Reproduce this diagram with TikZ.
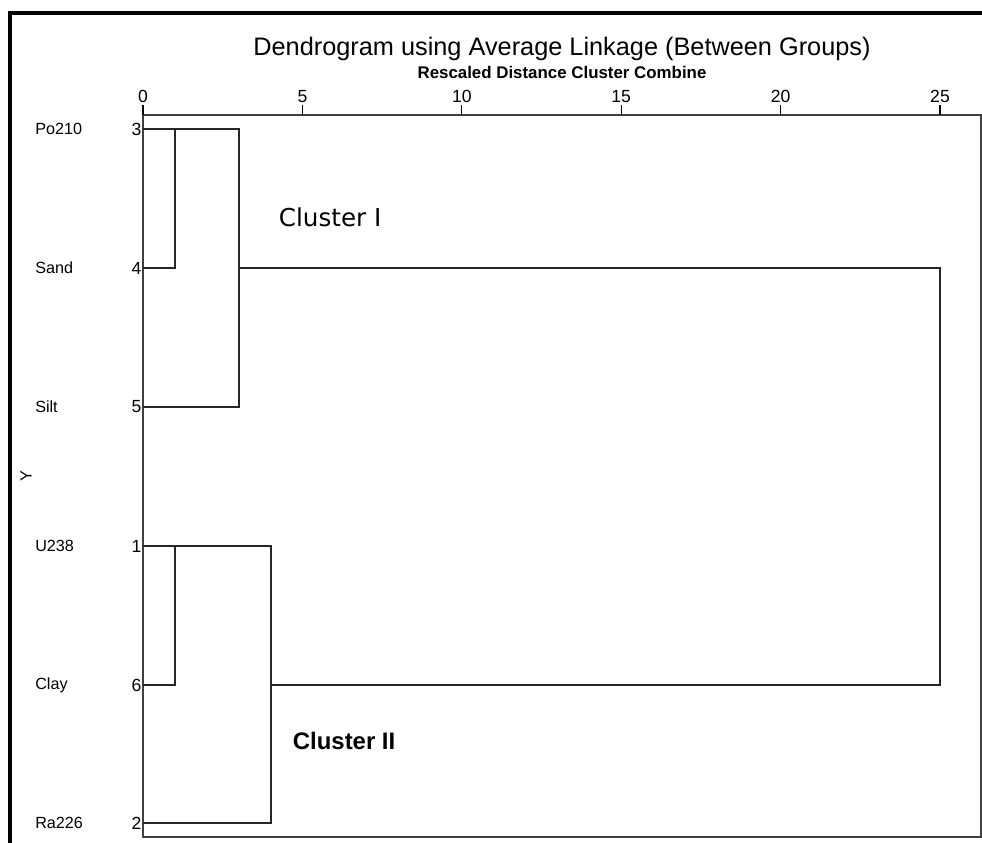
\documentclass[tikz,border=0pt]{standalone}
\usepackage{fontspec}
\setmainfont{Liberation Sans}
\newfontfamily\clusterfont{DejaVu Sans}
\usetikzlibrary{positioning}

\begin{document}
\begin{tikzpicture}[x=0.025cm,y=-0.025cm,
    link/.style={line width=1.5pt, black!85},
    leaf/.style={anchor=west, inner sep=0pt, font=\fontsize{11.5}{13}\selectfont},
    caseno/.style={anchor=east, inner sep=1pt, font=\fontsize{12.5}{14}\selectfont},
    ticklabel/.style={above, inner sep=1pt, font=\fontsize{12.5}{14}\selectfont}]
  \useasboundingbox (0,0) rectangle (982,843);
  % outer frame
  \draw[line width=3pt] (10,843) -- (10,13) -- (982,13);
  % titles
  \node (title) at (562,49) {\fontsize{18}{20}\selectfont Dendrogram using Average Linkage (Between Groups)};
  \node[below=-1pt of title, inner sep=1pt] (subtitle) {\fontsize{12}{14}\selectfont\bfseries Rescaled Distance Cluster Combine};
  % plot box and axis
  \draw[line width=0.8pt, black!75] (143,115) rectangle (981,837);
  \foreach \v in {0,5,...,25}
    \draw[line width=0.8pt] ({143+31.88*\v},115) -- ++(0,-10) node[ticklabel] {\v};
  \coordinate (k1) at (175,115);
  \coordinate (k3) at (239,115);
  \coordinate (k4) at (271,115);
  \coordinate (k25) at (940,115);
  % leaves
  \coordinate (po) at (143,129);
  \coordinate (sand) at (143,268);
  \coordinate (silt) at (143,407);
  \coordinate (u) at (143,546);
  \coordinate (clay) at (143,685);
  \coordinate (ra) at (143,823);
  \node[leaf] (lpo) at (35,129) {Po210};
  \node[leaf] (lsand) at (35,268) {Sand};
  \node[leaf] (lsilt) at (35,407) {Silt};
  \node[leaf] (lu) at (35,546) {U238};
  \node[leaf] (lclay) at (35,685) {Clay};
  \node[leaf] (lra) at (35,823) {Ra226};
  \node[caseno] (npo) at (po) {3};
  \node[caseno] (nsand) at (sand) {4};
  \node[caseno] (nsilt) at (silt) {5};
  \node[caseno] (nu) at (u) {1};
  \node[caseno] (nclay) at (clay) {6};
  \node[caseno] (nra) at (ra) {2};
  \node[rotate=90] (ylab) at (26,476) {\fontsize{11.5}{13}\selectfont Y};
  % links
  \draw[link] (sand) -- (sand -| k1) -- (po -| k1);
  \draw[link] (po) -- (po -| k3) -- (silt -| k3) -- (silt);
  \draw[link] (clay) -- (clay -| k1) -- (u -| k1);
  \draw[link] (u) -- (u -| k4) -- (ra -| k4) -- (ra);
  \draw[link] (sand -| k3) -- (sand -| k25) -- (clay -| k25) -- (clay -| k4);
  % cluster names
  \node[anchor=west] (c1) at (274,217) {\clusterfont\fontsize{17.5}{19}\selectfont Cluster I};
  \node[anchor=west] (c2) at (288,741) {\fontsize{17}{19}\selectfont\bfseries Cluster II};
\end{tikzpicture}
\end{document}
